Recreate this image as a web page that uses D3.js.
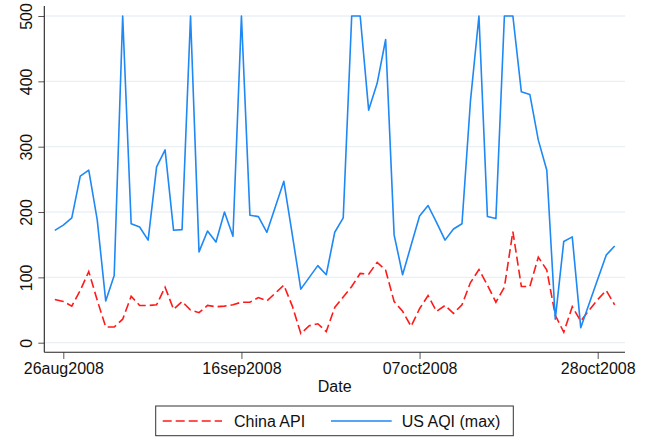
<!DOCTYPE html>
<html>
<head>
<meta charset="utf-8">
<script src="https://cdn.jsdelivr.net/npm/d3@7"></script>
<style>
  body { margin: 0; background: #fff; }
  text { font-family: "Liberation Sans", Arial, Helvetica, sans-serif; }
</style>
</head>
<body>
<svg id="chart"></svg>
<script>
// daily readings, 25aug2008 .. 30oct2008
const dates = [
  "2008-08-25","2008-08-26","2008-08-27","2008-08-28","2008-08-29","2008-08-30","2008-08-31",
  "2008-09-01","2008-09-02","2008-09-03","2008-09-04","2008-09-05","2008-09-06","2008-09-07","2008-09-08","2008-09-09","2008-09-10",
  "2008-09-11","2008-09-12","2008-09-13","2008-09-14","2008-09-15","2008-09-16","2008-09-17","2008-09-18","2008-09-19","2008-09-20",
  "2008-09-21","2008-09-22","2008-09-23","2008-09-24","2008-09-25","2008-09-26","2008-09-27","2008-09-28","2008-09-29","2008-09-30",
  "2008-10-01","2008-10-02","2008-10-03","2008-10-04","2008-10-05","2008-10-06","2008-10-07","2008-10-08","2008-10-09","2008-10-10",
  "2008-10-11","2008-10-12","2008-10-13","2008-10-14","2008-10-15","2008-10-16","2008-10-17","2008-10-18","2008-10-19","2008-10-20",
  "2008-10-21","2008-10-22","2008-10-23","2008-10-24","2008-10-25","2008-10-26","2008-10-27","2008-10-28","2008-10-29","2008-10-30"
];

const chinaApi = [
  66, 63, 56, 80, 109, 65, 24,
  24, 36, 71, 57, 57, 58, 85, 51, 63, 50,
  46, 57, 55, 56, 58, 62, 62, 69, 64, 76,
  88, 56, 14, 26, 29, 17, 54, 70, 86, 106,
  105, 123, 111, 63, 48, 25, 52, 72, 48, 57,
  45, 58, 92, 112, 88, 62, 85, 170, 86, 86,
  131, 111, 42, 16, 55, 33, 50, 66, 80, 58
];

const usAqi = [
  172, 180, 191, 255, 264, 188, 64,
  103, 500, 182, 177, 157, 269, 295, 172, 173, 500,
  139, 171, 154, 200, 163, 500, 195, 193, 169, 208,
  247, 165, 82, 100, 118, 104, 169, 191, 500, 500,
  356, 397, 464, 165, 104, 149, 194, 210, 184, 157,
  174, 182, 370, 500, 193, 190, 500, 500, 384, 380,
  310, 264, 36, 155, 162, 23, 60, 97, 134, 148
];

const xTickDates = ["2008-08-26", "2008-09-16", "2008-10-07", "2008-10-28"];
const xTickLabels = ["26aug2008", "16sep2008", "07oct2008", "28oct2008"];
const yTicks = [0, 100, 200, 300, 400, 500];

const width = 652, height = 440;
const plotLeft = 44.3, plotRight = 625, axisY = 352.3, axisTop = 6;

const parse = d3.utcParse("%Y-%m-%d");

const x = d3.scaleUtc()
  .domain([parse(xTickDates[0]), parse(xTickDates[3])])
  .range([63.3, 597.7]);

const y = d3.scaleLinear()
  .domain([0, 500])
  .range([342.7, 16]);

const svg = d3.select("#chart")
  .attr("width", width)
  .attr("height", height)
  .style("display", "block");

svg.append("rect").attr("width", width).attr("height", height).attr("fill", "#fff");

// gridlines
svg.append("g")
  .selectAll("line")
  .data(yTicks)
  .enter()
  .append("line")
  .attr("x1", plotLeft + 1)
  .attr("x2", plotRight)
  .attr("y1", d => y(d))
  .attr("y2", d => y(d))
  .attr("stroke", "#e8f0f4")
  .attr("stroke-width", 1.3);

// y axis
const yAxis = svg.append("g")
  .attr("transform", `translate(${plotLeft},0)`)
  .call(d3.axisLeft(y).tickValues(yTicks).tickSize(6).tickSizeOuter(0));
yAxis.select(".domain").remove();
yAxis.selectAll(".tick line").attr("stroke", "#555");
yAxis.selectAll(".tick text")
  .attr("x", null).attr("dy", null)
  .attr("transform", "translate(-12.8,0) rotate(-90)")
  .attr("text-anchor", "middle")
  .attr("fill", "#111")
  .style("font-size", "16px");

// x axis
const xAxis = svg.append("g")
  .attr("transform", `translate(0,${axisY})`)
  .call(d3.axisBottom(x)
    .tickValues(xTickDates.map(parse))
    .tickFormat((d, i) => xTickLabels[i])
    .tickSize(6.7)
    .tickSizeOuter(0));
xAxis.select(".domain").remove();
xAxis.selectAll(".tick line").attr("stroke", "#555");
xAxis.selectAll(".tick text")
  .attr("y", 22.2).attr("dy", null)
  .attr("fill", "#111")
  .style("font-size", "16px");

// axis lines
svg.append("line")
  .attr("x1", plotLeft).attr("x2", plotLeft)
  .attr("y1", axisTop).attr("y2", axisY)
  .attr("stroke", "#222").attr("stroke-width", 1.1);
svg.append("line")
  .attr("x1", plotLeft).attr("x2", plotRight)
  .attr("y1", axisY).attr("y2", axisY)
  .attr("stroke", "#222").attr("stroke-width", 1.1);

svg.append("text")
  .attr("x", (plotLeft + plotRight) / 2)
  .attr("y", 391.7)
  .attr("text-anchor", "middle")
  .attr("fill", "#111")
  .style("font-size", "16px")
  .text("Date");

// series
const line = vals => d3.line()
  .x((d, i) => x(parse(dates[i])))
  .y(d => y(d))(vals);

svg.append("path")
  .attr("d", line(chinaApi))
  .attr("fill", "none")
  .attr("stroke", "#ff1a1a")
  .attr("stroke-width", 1.6)
  .attr("stroke-dasharray", "9,4");

svg.append("path")
  .attr("d", line(usAqi))
  .attr("fill", "none")
  .attr("stroke", "#1e88f5")
  .attr("stroke-width", 1.6)
  .attr("stroke-linejoin", "round");

// legend
const legend = svg.append("g");
legend.append("rect")
  .attr("x", 155.7).attr("y", 406)
  .attr("width", 357.6).attr("height", 29.7)
  .attr("fill", "#fff")
  .attr("stroke", "#333")
  .attr("stroke-width", 1);

legend.append("line")
  .attr("x1", 162.7).attr("x2", 222)
  .attr("y1", 421).attr("y2", 421)
  .attr("stroke", "#ff1a1a").attr("stroke-width", 1.6)
  .attr("stroke-dasharray", "9,4");
legend.append("text")
  .attr("x", 234).attr("y", 427)
  .attr("fill", "#111")
  .style("font-size", "16px")
  .text("China API");

legend.append("line")
  .attr("x1", 331).attr("x2", 391.7)
  .attr("y1", 421).attr("y2", 421)
  .attr("stroke", "#1e88f5").attr("stroke-width", 1.6);
legend.append("text")
  .attr("x", 401.7).attr("y", 427)
  .attr("fill", "#111")
  .style("font-size", "16px")
  .text("US AQI (max)");
</script>
</body>
</html>
